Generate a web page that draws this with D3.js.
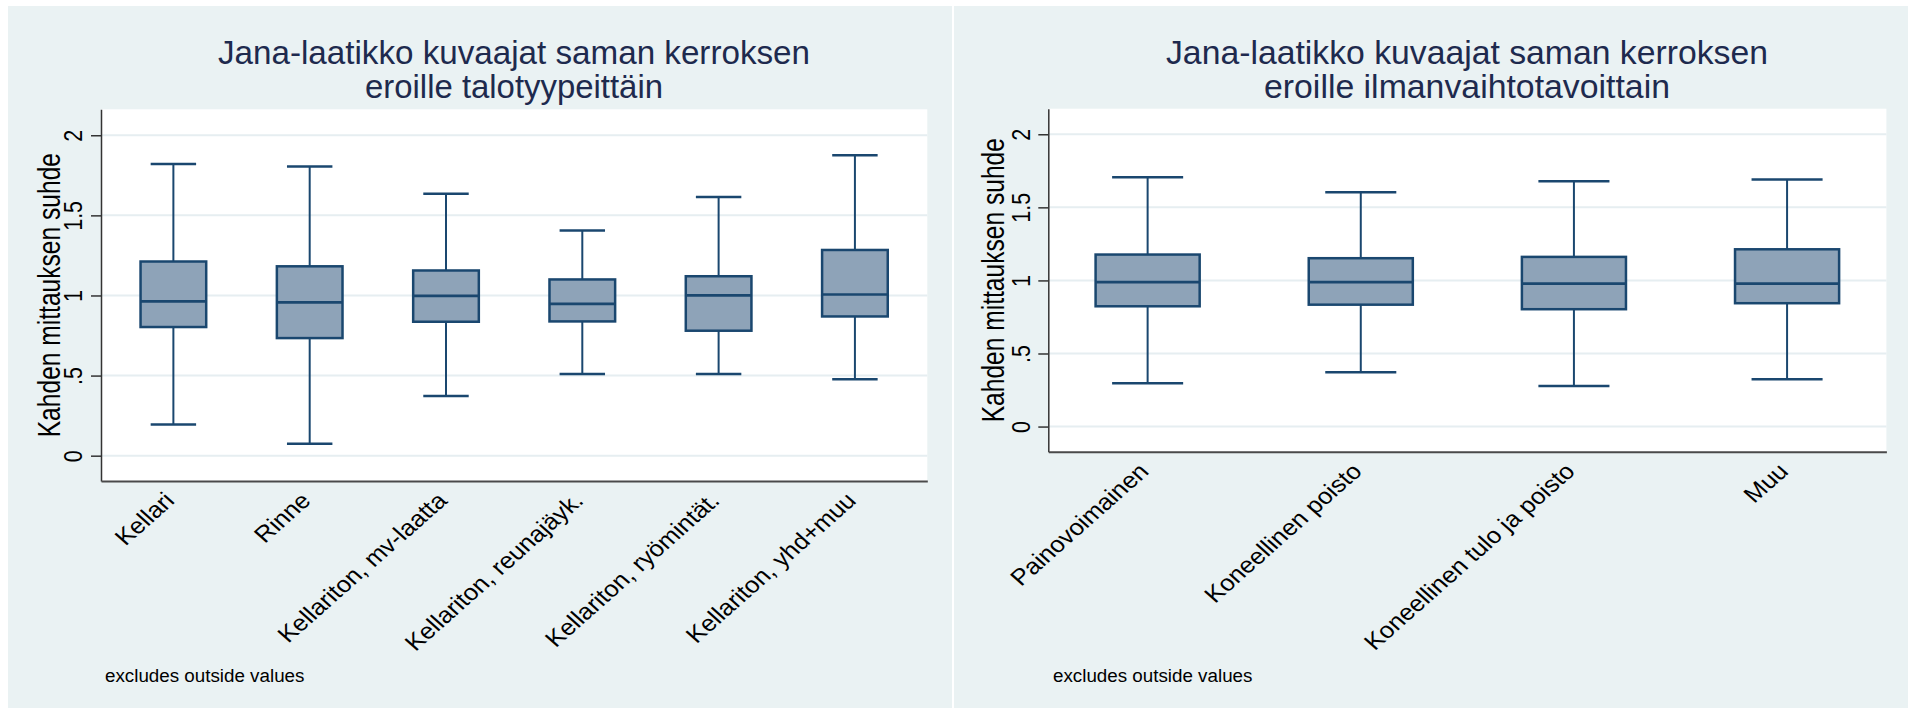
<!DOCTYPE html>
<html>
<head>
<meta charset="utf-8">
<script src="https://cdn.jsdelivr.net/npm/d3@7"></script>
<style>
  html, body { margin: 0; padding: 0; background: #ffffff; }
  svg { display: block; font-family: "Liberation Sans", Arial, Helvetica, sans-serif; }
</style>
</head>
<body>
<svg id="chart" width="1915" height="710"></svg>
<script>
// ---- Box plot summaries: ratio of two measurements on the same floor ----

// By house type
const houseTypes = ["Kellari", "Rinne", "Kellariton, mv-laatta", "Kellariton, reunajäyk.", "Kellariton, ryömintät.", "Kellariton, yhd+muu"];
const houseUpper  = [1.820, 1.805, 1.635, 1.406, 1.614, 1.875];
const houseQ3     = [1.212, 1.182, 1.156, 1.100, 1.120, 1.284];
const houseMedian = [0.963, 0.957, 0.998, 0.948, 1.000, 1.006];
const houseQ1     = [0.803, 0.734, 0.836, 0.838, 0.780, 0.869];
const houseLower  = [0.195, 0.075, 0.373, 0.510, 0.510, 0.477];

// By ventilation type
const ventTypes  = ["Painovoimainen", "Koneellinen poisto", "Koneellinen tulo ja poisto", "Muu"];
const ventUpper  = [1.706, 1.603, 1.678, 1.690];
const ventQ3     = [1.177, 1.152, 1.161, 1.213];
const ventMedian = [0.988, 0.988, 0.978, 0.978];
const ventQ1     = [0.823, 0.834, 0.803, 0.844];
const ventLower  = [0.297, 0.372, 0.278, 0.324];

// Axis ticks
const yTickValues = [0, 0.5, 1, 1.5, 2];
const yTickLabels = ["0", ".5", "1", "1.5", "2"];

// Texts
const titleHouse = ["Jana-laatikko kuvaajat saman kerroksen", "eroille talotyypeittäin"];
const titleVent  = ["Jana-laatikko kuvaajat saman kerroksen", "eroille ilmanvaihtotavoittain"];
const yTitle = "Kahden mittauksen suhde";
const noteText = "excludes outside values";

// ---- Styling ----
const BG = "#eaf2f3";
const GRID = "#e6eef1";
const TITLE_COLOR = "#1e2a4e";
const BOX_FILL = "#8ea3b8";
const BOX_STROKE = "#1a476f";

function rows(cats, lo, q1, med, q3, hi) {
  return cats.map((c, i) => ({ cat: c, lo: lo[i], q1: q1[i], med: med[i], q3: q3[i], hi: hi[i] }));
}

const panels = [
  {
    data: rows(houseTypes, houseLower, houseQ1, houseMedian, houseQ3, houseUpper),
    cats: houseTypes,
    title: titleHouse,
    bg: { x: 8, y: 6, w: 944, h: 702 },
    plot: { left: 101, right: 927.3, top: 109.3, bottom: 481 },
    yDomain: [-0.158, 2.162],
    pointPadding: 0.531,
    titleX: 514, titleLen: [592, 298],
    yTitleOffset: 52,
    noteX: 105
  },
  {
    data: rows(ventTypes, ventLower, ventQ1, ventMedian, ventQ3, ventUpper),
    cats: ventTypes,
    title: titleVent,
    bg: { x: 954, y: 6, w: 954, h: 702 },
    plot: { left: 1048.3, right: 1886.4, top: 108.7, bottom: 451.7 },
    yDomain: [-0.172, 2.175],
    pointPadding: 0.466,
    titleX: 1467, titleLen: [602, 406],
    yTitleOffset: 55,
    noteX: 1053
  }
];

const svg = d3.select("#chart");

panels.forEach(p => {
  const g = svg.append("g");

  // panel background
  g.append("rect")
    .attr("x", p.bg.x).attr("y", p.bg.y)
    .attr("width", p.bg.w).attr("height", p.bg.h)
    .attr("fill", BG);

  // plot region
  g.append("rect")
    .attr("x", p.plot.left).attr("y", p.plot.top)
    .attr("width", p.plot.right - p.plot.left)
    .attr("height", p.plot.bottom - p.plot.top)
    .attr("fill", "#ffffff");

  const x = d3.scalePoint()
    .domain(p.cats)
    .range([p.plot.left, p.plot.right])
    .padding(p.pointPadding);

  const y = d3.scaleLinear()
    .domain(p.yDomain)
    .range([p.plot.bottom, p.plot.top]);

  const boxW = x.step() * 0.5;
  const capW = boxW * 2 / 3;

  // horizontal grid lines
  g.append("g").selectAll("line")
    .data(yTickValues)
    .join("line")
    .attr("x1", p.plot.left).attr("x2", p.plot.right)
    .attr("y1", d => y(d)).attr("y2", d => y(d))
    .attr("stroke", GRID).attr("stroke-width", 2);

  // title (two lines)
  const title = g.append("text")
    .attr("fill", TITLE_COLOR)
    .attr("font-size", 33)
    .attr("text-anchor", "middle");
  p.title.forEach((line, i) => {
    title.append("tspan")
      .attr("x", p.titleX)
      .attr("y", 63.5 + i * 34)
      .attr("textLength", p.titleLen[i])
      .attr("lengthAdjust", "spacingAndGlyphs")
      .text(line);
  });

  // boxes
  const boxes = g.append("g").selectAll("g")
    .data(p.data)
    .join("g")
    .attr("transform", d => `translate(${x(d.cat)},0)`);

  // whiskers
  boxes.append("line")
    .attr("x1", 0).attr("x2", 0)
    .attr("y1", d => y(d.hi)).attr("y2", d => y(d.q3))
    .attr("stroke", BOX_STROKE).attr("stroke-width", 2);
  boxes.append("line")
    .attr("x1", 0).attr("x2", 0)
    .attr("y1", d => y(d.q1)).attr("y2", d => y(d.lo))
    .attr("stroke", BOX_STROKE).attr("stroke-width", 2);

  // whisker caps
  boxes.append("line")
    .attr("x1", -capW / 2).attr("x2", capW / 2)
    .attr("y1", d => y(d.hi)).attr("y2", d => y(d.hi))
    .attr("stroke", BOX_STROKE).attr("stroke-width", 2.5);
  boxes.append("line")
    .attr("x1", -capW / 2).attr("x2", capW / 2)
    .attr("y1", d => y(d.lo)).attr("y2", d => y(d.lo))
    .attr("stroke", BOX_STROKE).attr("stroke-width", 2.5);

  // interquartile box
  boxes.append("rect")
    .attr("x", -boxW / 2 + 1.25)
    .attr("width", boxW - 2.5)
    .attr("y", d => y(d.q3))
    .attr("height", d => y(d.q1) - y(d.q3))
    .attr("fill", BOX_FILL)
    .attr("stroke", BOX_STROKE).attr("stroke-width", 2.5);

  // median
  boxes.append("line")
    .attr("x1", -boxW / 2 + 1.25).attr("x2", boxW / 2 - 1.25)
    .attr("y1", d => y(d.med)).attr("y2", d => y(d.med))
    .attr("stroke", BOX_STROKE).attr("stroke-width", 2.7);

  // y axis
  const yAxis = g.append("g")
    .attr("transform", `translate(${p.plot.left},0)`)
    .call(d3.axisLeft(y)
      .tickValues(yTickValues)
      .tickFormat((d, i) => yTickLabels[i])
      .tickSize(10)
      .tickSizeOuter(0));
  yAxis.select(".domain").attr("stroke", "#333333").attr("stroke-width", 1.5);
  yAxis.selectAll(".tick line").attr("stroke", "#333333").attr("stroke-width", 1.5);
  yAxis.selectAll(".tick text")
    .attr("x", 0).attr("y", 0).attr("dy", "0.36em")
    .attr("text-anchor", "middle")
    .attr("font-size", 21.5)
    .attr("font-family", null)
    .attr("fill", "#000000")
    .attr("transform", "translate(-28,0) scale(1.2,1) rotate(-90)");

  // x axis with rotated category labels
  const xAxis = g.append("g")
    .attr("transform", `translate(0,${p.plot.bottom})`)
    .call(d3.axisBottom(x).tickSize(0).tickSizeOuter(0));
  xAxis.select(".domain").attr("stroke", "#4a4a4a").attr("stroke-width", 2);
  xAxis.selectAll(".tick text")
    .attr("x", 0).attr("y", 0).attr("dy", 0)
    .attr("text-anchor", "end")
    .attr("font-size", 22.7)
    .attr("font-family", null)
    .attr("fill", "#000000")
    .attr("transform", "translate(2,21) scale(1.13,1) rotate(-45)");

  // y axis title
  g.append("text")
    .attr("transform", `translate(${p.plot.left - p.yTitleOffset},${(p.plot.top + p.plot.bottom) / 2}) scale(1.25,1) rotate(-90)`)
    .attr("dy", "0.36em")
    .attr("text-anchor", "middle")
    .attr("font-size", 24.6)
    .attr("fill", "#000000")
    .text(yTitle);

  // note
  g.append("text")
    .attr("x", p.noteX).attr("y", 681.7)
    .attr("font-size", 18.8)
    .attr("fill", "#000000")
    .text(noteText);
});
</script>
</body>
</html>
